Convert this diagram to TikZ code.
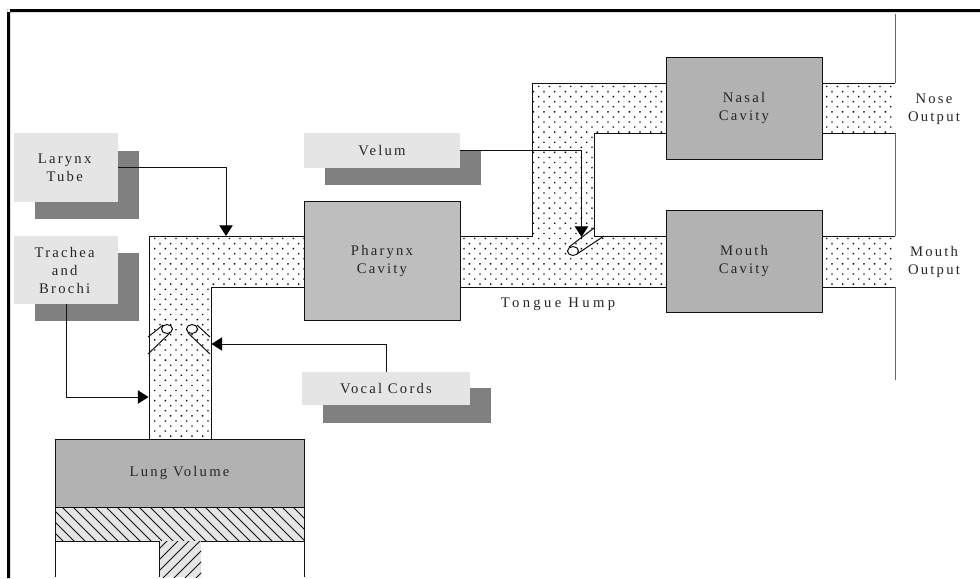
\documentclass[tikz,border=0pt]{standalone}
\usepackage{fontspec}
\setmainfont[LetterSpace=15]{Liberation Serif}
\usetikzlibrary{patterns,arrows.meta,shapes.geometric}
\pgfdeclarepatternformonly{tractdots}{\pgfqpoint{-1pt}{-1pt}}{\pgfqpoint{7pt}{7pt}}{\pgfqpoint{8pt}{7.6pt}}{%
  \pgfpathrectangle{\pgfqpoint{-0.5pt}{-0.5pt}}{\pgfqpoint{1pt}{1pt}}%
  \pgfpathrectangle{\pgfqpoint{3.5pt}{3.3pt}}{\pgfqpoint{1pt}{1pt}}%
  \pgfusepath{fill}}
\definecolor{ink}{HTML}{111111}
\definecolor{shadowg}{HTML}{808080}
\definecolor{pale}{HTML}{E5E5E5}
\definecolor{midg}{HTML}{B2B2B2}
\definecolor{pharg}{HTML}{BEBEBE}
\tikzset{
  lab/.style={font=\fontsize{11pt}{13.5pt}\selectfont,align=center,text=black!85,inner sep=0pt},
  palebox/.style={lab,fill=pale,minimum width=#1},
  cavity/.style={lab,draw=ink,line width=0.7pt,fill=midg},
  wall/.style={draw=ink,line width=0.75pt},
  conn/.style={draw=ink,line width=0.75pt,-{Triangle[length=8pt,width=10pt,color=black]}},
  flap/.style={draw=black,line width=0.7pt,fill=white}
}
\begin{document}
\begin{tikzpicture}[x=0.75pt,y=-0.75pt]
\useasboundingbox (0,0) rectangle (980,578);
% frame
\fill[black] (7,578) rectangle (10,9) (7,9) rectangle (980,12);
% shadows
\fill[shadowg] (35,151) rectangle (139,219);
\fill[shadowg] (35,253) rectangle (139,321);
\fill[shadowg] (325,150) rectangle (481,185);
\fill[shadowg] (323,388) rectangle (491,423);
% tract
\fill[pattern=tractdots] (149,439) -- (149,236) -- (532,236) -- (532,83) -- (895,83) -- (895,133) -- (594,133) -- (594,236) -- (895,236) -- (895,287) -- (211,287) -- (211,439) -- cycle;
\draw[wall] (149,439) -- (149,236) -- (532,236) -- (532,83) -- (895,83);
\draw[wall] (895,133) -- (594,133) -- (594,236) -- (895,236);
\draw[wall] (895,287) -- (211,287) -- (211,439);
\draw[wall,draw=black!60] (895,14) -- (895,83) (895,133) -- (895,236) (895,287) -- (895,380);
% piston
\draw[wall] (55,507) -- (55,577) (304,507) -- (304,577);
\begin{scope}
\clip (55,507) rectangle (304,541);
\fill[pale] (55,507) rectangle (304,541);
\foreach \k in {0,...,28} \draw[ink,line width=0.6pt] ({25+11*\k},503) -- ++(42,42);
\end{scope}
\draw[wall] (55,507) rectangle (304,541);
\begin{scope}
\clip (159,541) rectangle (201,577);
\fill[pale] (159,541) rectangle (201,577);
\foreach \k in {0,...,7} \draw[ink,line width=0.6pt] ({159+11*\k},538) -- ++(-42,42);
\end{scope}
\draw[wall] (159,541) -- (159,577);
% nodes
\node[cavity,minimum width=186.75pt,minimum height=51pt] (lung) at (179.5,473) {Lung Volume};
\node[cavity,fill=pharg,minimum width=117pt,minimum height=89.25pt] (pharynx) at (382,260.5) {Pharynx\\Cavity};
\node[cavity,minimum width=117pt,minimum height=76.5pt] (nasal) at (744,108) {\raisebox{-1.5pt}{Nasal}\\\raisebox{-1.5pt}{Cavity}};
\node[cavity,minimum width=117pt,minimum height=76.5pt] (mouth) at (744,261) {\raisebox{-1pt}{Mouth}\\\raisebox{-1pt}{Cavity}};
\node[palebox=78pt,minimum height=51.75pt] (larynx) at (66,167.5) {\hspace*{-2pt}Larynx\\\hspace*{-2pt}Tube};
\node[palebox=78pt,minimum height=51pt] (trachea) at (66,270) {\hspace*{-2pt}Trachea\\\hspace*{-2pt}and\\\hspace*{-2pt}Brochi};
\node[palebox=117pt,minimum height=26.25pt] (velum) at (382,150.5) {Velum};
\node[palebox=126pt,minimum height=24.75pt] (vocal) at (386,388.5) {Vocal Cords};
\node[lab] (hump) at (558,304) {\addfontfeature{LetterSpace=23}Tongue Hump};
\node[lab] (nose) at (934,109) {Nose\\Output};
\node[lab] (mouthout) at (934,262) {Mouth\\Output};
% flaps
\draw[wall] (148,337) -- (163,325) (148,354) -- (170,333);
\draw[wall] (210,337) -- (197,325) (210,354) -- (188,333);
\draw[wall] (594,228) -- (569,247) (604,236) -- (577,254);
\draw[flap] (167,329) ellipse (5.5 and 4.5);
\draw[flap] (192,329) ellipse (5.5 and 4.5);
\draw[flap] (573,251) ellipse (5.5 and 4.5);
% connectors
\coordinate (larynxin) at (226,236);
\coordinate (tracheain) at (148.5,397);
\coordinate (vocalin) at (211.5,344);
\coordinate (veluminner) at (581.5,237);
\draw[conn] (larynx.east) -| (larynxin);
\draw[conn] (trachea.south) |- (tracheain);
\draw[conn] (vocal.north) |- (vocalin);
\draw[conn] (velum.east) -| (veluminner);
\end{tikzpicture}
\end{document}
